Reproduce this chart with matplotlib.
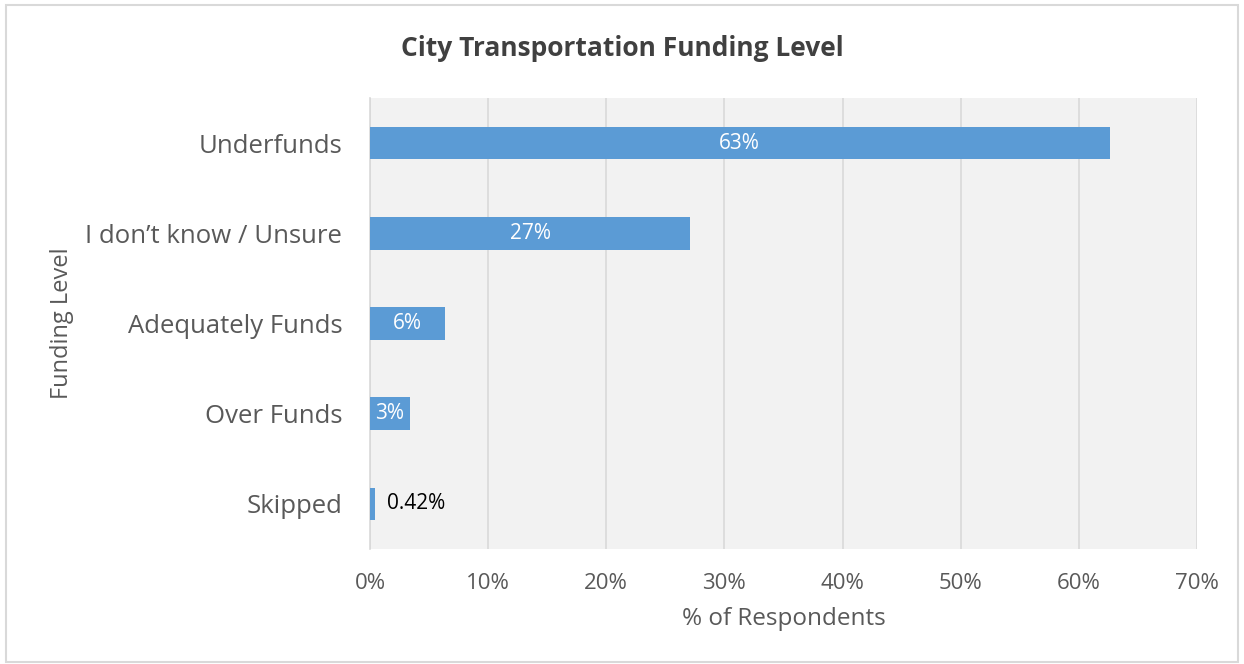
import matplotlib.pyplot as plt
from matplotlib.patches import Rectangle
from matplotlib.ticker import PercentFormatter

categories = ['Underfunds', 'I don\u2019t know / Unsure', 'Adequately Funds', 'Over Funds', 'Skipped']
values = [62.6, 27.1, 6.35, 3.4, 0.42]
labels = ['63%', '27%', '6%', '3%', '0.42%']

plt.rcParams['font.family'] = ['Open Sans', 'DejaVu Sans']
text_gray = '#595959'

fig = plt.figure(figsize=(12.44, 6.64), dpi=100)
fig.patches.append(Rectangle((0.005, 0.003), 0.99, 0.99, transform=fig.transFigure,
                             fill=False, edgecolor='#d9d9d9', linewidth=1.5))

ax = fig.add_axes([0.2974, 0.1732, 0.6648, 0.6792])
ax.set_facecolor('#f2f2f2')

y = list(range(len(categories)))
ax.barh(y, values, height=0.36, color='#5b9bd5', zorder=3)
ax.set_ylim(4.5, -0.5)
ax.set_xlim(0, 70)
ax.set_xticks(range(0, 71, 10))
ax.xaxis.set_major_formatter(PercentFormatter(decimals=0))
ax.set_yticks(y)
ax.set_yticklabels(categories)
ax.tick_params(axis='both', length=0, colors=text_gray)
ax.tick_params(axis='x', pad=17, labelsize=16)
ax.tick_params(axis='y', pad=20, labelsize=18.5)

ax.grid(axis='x', color='#d9d9d9', linewidth=1.2, zorder=0)
for s in ['top', 'right', 'bottom']:
    ax.spines[s].set_visible(False)
ax.spines['left'].set_color('#d9d9d9')
ax.spines['left'].set_linewidth(1.2)

for i, (v, lab) in enumerate(zip(values, labels)):
    if v < 1:
        ax.text(v + 1.0, i, lab, va='center', ha='left', fontsize=15, color='black', zorder=4)
    else:
        ax.text(v / 2, i, lab, va='center', ha='center', fontsize=15, color='white', zorder=4)

ax.set_xlabel('% of Respondents', fontsize=17.5, color=text_gray, labelpad=10)
ax.set_ylabel('Funding Level', fontsize=17, color=text_gray, labelpad=8)
fig.suptitle('City Transportation Funding Level', fontsize=19, fontweight='bold',
             color='#404040', x=0.5, y=0.947)

fig.savefig('out.png', dpi=100)
